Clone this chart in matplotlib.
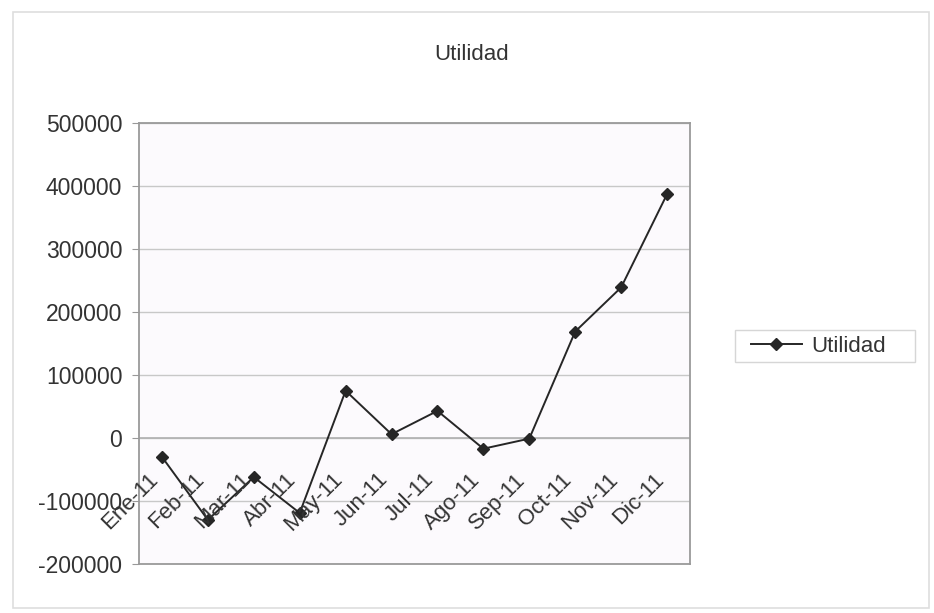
import numpy as np
import matplotlib
matplotlib.use("Agg")
from matplotlib import pyplot as plt
from matplotlib import transforms
from matplotlib.patches import Rectangle

months = ["Ene-11", "Feb-11", "Mar-11", "Abr-11", "May-11", "Jun-11",
          "Jul-11", "Ago-11", "Sep-11", "Oct-11", "Nov-11", "Dic-11"]
utilidad = [-30000, -130000, -62000, -119000, 75000, 6000,
            43000, -17000, -1000, 169000, 239000, 387000]
yticks = [-200000, -100000, 0, 100000, 200000, 300000, 400000, 500000]

plt.rcParams["font.family"] = ["Liberation Sans", "DejaVu Sans"]
W, H = 934, 613
fig = plt.figure(figsize=(W/100, H/100), dpi=100)
fig.patch.set_facecolor("white")

# chart area border
fig.patches.append(Rectangle((13/W, 1-608/H), (929-13)/W, (608-12)/H,
                             transform=fig.transFigure, fill=False,
                             edgecolor="#dedede", lw=1.2))

left, right, top, bottom = 139, 690, 123, 564
ax = fig.add_axes([left/W, 1-bottom/H, (right-left)/W, (bottom-top)/H])
ax.set_facecolor("#fcfafd")

x = np.arange(len(months))
ax.plot(x, utilidad, color="#262626", lw=1.4, marker="D", markersize=6,
        label="Utilidad", zorder=3)

ax.set_xlim(-0.5, len(months)-0.5)
ax.set_ylim(-200000, 500000)
ax.set_yticks(yticks)
ax.set_yticklabels([str(v) for v in yticks], fontsize=16.5, color="#333333")
ax.tick_params(axis="y", length=5, color="#999999", pad=7)
ax.set_xticks([])
ax.grid(axis="y", color="#c8c8c8", lw=1.0)
ax.set_axisbelow(True)
for s in ax.spines.values():
    s.set_color("#9a9a9a")
    s.set_linewidth(1.3)
ax.axhline(0, color="#b0b0b0", lw=1.2, zorder=1)

# category labels hang from the zero line, rotated 45 degrees
for i, m in enumerate(months):
    tr = transforms.offset_copy(ax.transData, fig=fig, x=-14, y=-31, units="dots")
    ax.text(i, 0, m, transform=tr, rotation=45, rotation_mode="anchor",
            ha="right", va="top", fontsize=16, color="#333333", clip_on=False)

fig.text(472/W, 1-55/H, "Utilidad", ha="center", va="center",
         fontsize=16, color="#333333")

# legend box
fig.patches.append(Rectangle((735/W, 1-362/H), (915-735)/W, (362-330)/H,
                             transform=fig.transFigure, fill=False,
                             edgecolor="#d6d6d6", lw=1.0))
leg = fig.legend(loc="center left", bbox_to_anchor=(733/W, 1-346/H),
                 fontsize=16, frameon=False,
                 handlelength=2.3, handletextpad=0.4, borderpad=0.3,
                 labelcolor="#333333")

fig.savefig("out.png", dpi=100)
